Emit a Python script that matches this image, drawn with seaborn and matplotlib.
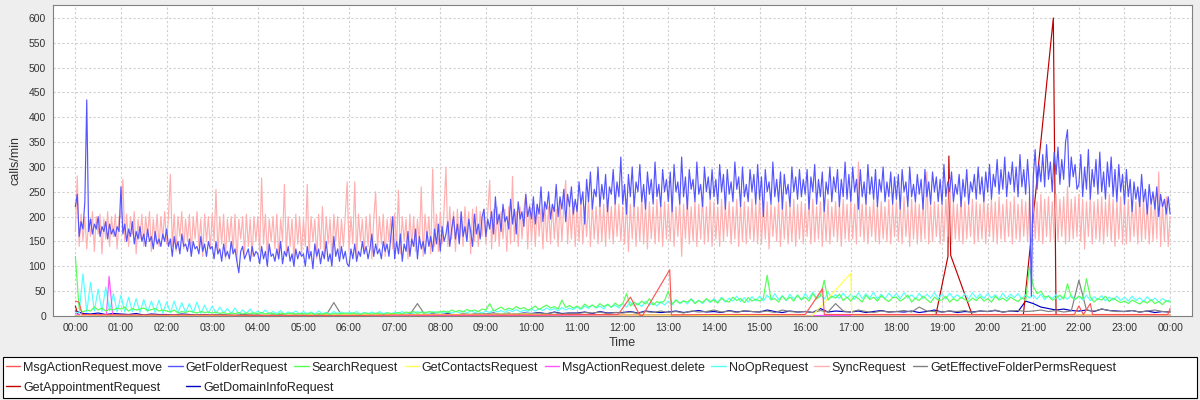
import numpy as np
import pandas as pd
import matplotlib
matplotlib.use("Agg")
import matplotlib.pyplot as plt
from matplotlib.lines import Line2D
from matplotlib.patches import Rectangle
import seaborn as sns

# ---------------- data ----------------
SERIES = ["MsgActionRequest.move", "GetFolderRequest", "SearchRequest", "GetContactsRequest",
          "MsgActionRequest.delete", "NoOpRequest", "SyncRequest", "GetEffectiveFolderPermsRequest",
          "GetAppointmentRequest", "GetDomainInfoRequest"]
COLORS = ["#FF5555", "#5555FF", "#55FF55", "#FFFF55", "#FF55FF", "#55FFFF", "#FFAFAF", "#808080",
          "#C00000", "#0000C0"]

# sample grids in minutes (00:00 .. 24:00)
MIN_2_5 = [i * 2.5 for i in range(577)]
MIN_5 = list(range(0, 1441, 5))
MIN_10 = list(range(0, 1441, 10))

get_folder = [  # 2.5-minute samples, one row per hour
    220, 245, 160, 190, 175, 230, 435, 170, 195, 165, 185, 175, 200, 160, 180, 170, 190, 155, 185, 165, 175, 160, 180, 170,
    260, 165, 185, 150, 175, 160, 190, 145, 170, 155, 180, 150, 165, 140, 175, 150, 160, 135, 170, 145, 155, 140, 165, 150,
    175, 140, 155, 120, 160, 135, 150, 125, 165, 140, 145, 130, 155, 120, 150, 135, 140, 125, 160, 130, 145, 120, 150, 135,
    140, 115, 150, 125, 135, 110, 145, 120, 130, 115, 150, 125, 135, 110, 87, 130, 140, 115, 125, 135, 110, 140, 120, 130,
    125, 105, 140, 115, 130, 100, 145, 120, 125, 110, 135, 115, 150, 105, 130, 120, 140, 110, 125, 100, 135, 115, 130, 120,
    125, 100, 140, 115, 130, 95, 145, 120, 135, 105, 130, 115, 150, 110, 125, 100, 160, 120, 135, 110, 140, 115, 130, 105,
    100, 135, 115, 145, 110, 130, 120, 150, 125, 140, 115, 135, 165, 120, 145, 125, 135, 115, 150, 130, 145, 120, 160, 200,
    115, 150, 125, 165, 110, 145, 130, 170, 120, 155, 140, 175, 115, 160, 135, 150, 125, 170, 140, 160, 130, 175, 145, 185,
    130, 180, 150, 165, 190, 140, 175, 200, 155, 185, 145, 210, 160, 180, 150, 195, 170, 140, 205, 165, 185, 155, 200, 215,
    160, 195, 175, 210, 165, 240, 185, 205, 170, 225, 190, 200, 175, 235, 185, 215, 165, 230, 195, 210, 180, 245, 200, 220,
    195, 240, 185, 225, 205, 260, 190, 230, 215, 250, 195, 225, 210, 265, 200, 240, 215, 255, 190, 245, 220, 260, 205, 235,
    210, 270, 225, 250, 185, 275, 230, 290, 215, 255, 240, 300, 220, 265, 235, 285, 210, 260, 245, 295, 225, 270, 240, 320,
    225, 265, 205, 285, 240, 300, 220, 270, 250, 305, 230, 265, 215, 290, 245, 275, 225, 310, 240, 265, 220, 295, 250, 275,
    230, 290, 210, 305, 250, 270, 225, 320, 240, 280, 215, 295, 255, 275, 230, 310, 245, 265, 220, 300, 250, 280, 235, 295,
    240, 275, 225, 305, 250, 285, 215, 295, 245, 270, 230, 310, 255, 280, 220, 300, 240, 265, 230, 295, 250, 285, 225, 305,
    235, 280, 200, 295, 250, 270, 225, 310, 240, 275, 230, 290, 215, 285, 245, 265, 220, 300, 250, 280, 235, 295, 240, 275,
    245, 295, 215, 280, 250, 305, 225, 275, 240, 290, 210, 270, 245, 300, 230, 280, 250, 295, 220, 275, 240, 310, 235, 285,
    230, 300, 250, 275, 215, 295, 240, 270, 225, 305, 245, 280, 235, 295, 220, 275, 250, 300, 230, 270, 240, 290, 225, 280,
    235, 285, 215, 295, 250, 270, 220, 300, 240, 265, 230, 285, 245, 275, 215, 295, 240, 270, 225, 290, 250, 280, 230, 275,
    225, 305, 240, 270, 250, 290, 230, 265, 245, 285, 220, 275, 240, 295, 225, 270, 250, 285, 235, 300, 245, 280, 230, 290,
    250, 305, 235, 285, 260, 315, 245, 295, 255, 320, 240, 290, 265, 310, 250, 300, 240, 325, 260, 295, 245, 315, 255, 40,
    280, 335, 255, 305, 270, 325, 260, 345, 275, 310, 250, 330, 285, 340, 265, 315, 275, 350, 375, 260, 320, 280, 305, 255,
    265, 325, 240, 300, 255, 335, 235, 295, 260, 315, 245, 330, 250, 290, 235, 310, 260, 320, 240, 295, 230, 305, 250, 285,
    225, 295, 240, 275, 210, 270, 235, 260, 220, 285, 230, 255, 205, 265, 225, 250, 215, 260, 200, 245, 220, 235, 205, 240,
    205]

sync = [  # 2.5-minute samples, one row per hour
    170, 282, 140, 205, 150, 200, 135, 195, 160, 210, 130, 200, 165, 205, 125, 195, 155, 210, 140, 200, 160, 205, 135, 200,
    200, 275, 150, 205, 140, 200, 165, 210, 125, 195, 155, 205, 140, 200, 160, 210, 130, 195, 150, 205, 140, 200, 155, 210,
    145, 200, 285, 140, 205, 130, 200, 160, 210, 135, 195, 150, 205, 125, 200, 155, 210, 140, 195, 120, 205, 150, 200, 135,
    205, 150, 255, 125, 200, 145, 205, 115, 195, 150, 200, 130, 205, 110, 195, 155, 200, 125, 205, 140, 195, 120, 200, 150,
    200, 130, 278, 145, 205, 120, 195, 150, 200, 135, 205, 115, 195, 150, 265, 125, 200, 140, 195, 110, 205, 145, 200, 125,
    195, 140, 265, 120, 200, 150, 195, 115, 205, 135, 220, 125, 200, 145, 195, 110, 205, 150, 200, 125, 195, 140, 200, 270,
    130, 200, 145, 270, 120, 205, 150, 195, 125, 200, 140, 205, 115, 195, 250, 135, 200, 145, 205, 120, 195, 150, 200, 135,
    205, 140, 253, 125, 200, 150, 195, 115, 205, 140, 200, 130, 195, 145, 260, 120, 205, 150, 200, 125, 296, 140, 205, 130,
    210, 145, 215, 299, 140, 220, 155, 210, 130, 215, 150, 205, 140, 220, 155, 210, 125, 215, 150, 220, 140, 210, 160, 215,
    145, 210, 273, 135, 215, 150, 220, 140, 210, 155, 215, 130, 220, 145, 281, 150, 210, 140, 220, 155, 215, 245, 135, 225,
    150, 220, 140, 225, 160, 215, 135, 230, 150, 220, 145, 225, 155, 215, 140, 230, 150, 225, 273, 145, 220, 155, 230, 140,
    225, 150, 230, 145, 220, 160, 235, 140, 225, 155, 220, 145, 230, 150, 225, 140, 235, 155, 220, 145, 230, 160, 225, 150,
    220, 145, 235, 130, 225, 155, 230, 140, 220, 150, 240, 145, 225, 135, 230, 155, 220, 145, 235, 150, 225, 140, 230, 155,
    225, 150, 235, 140, 220, 160, 230, 120, 225, 155, 235, 145, 220, 150, 230, 140, 225, 155, 240, 145, 220, 150, 235, 140,
    230, 155, 220, 140, 235, 150, 225, 160, 230, 145, 220, 155, 235, 140, 225, 150, 230, 145, 220, 155, 235, 150, 225, 145,
    240, 145, 225, 155, 230, 135, 225, 160, 220, 150, 235, 140, 225, 155, 230, 145, 220, 150, 235, 140, 225, 155, 230, 145,
    225, 160, 230, 145, 235, 150, 220, 155, 230, 140, 225, 150, 235, 145, 220, 160, 230, 150, 225, 140, 235, 155, 225, 150,
    230, 155, 225, 145, 310, 160, 225, 150, 230, 145, 220, 160, 235, 150, 225, 145, 230, 155, 220, 150, 235, 145, 225, 160,
    230, 150, 225, 145, 240, 160, 220, 140, 235, 155, 230, 145, 225, 150, 235, 155, 290, 145, 225, 150, 230, 160, 225, 145,
    225, 150, 235, 160, 275, 145, 230, 155, 225, 150, 240, 145, 230, 155, 225, 160, 235, 145, 230, 150, 225, 155, 240, 145,
    225, 160, 235, 150, 230, 145, 240, 155, 225, 150, 235, 160, 230, 145, 240, 155, 225, 150, 235, 160, 230, 150, 240, 155,
    240, 155, 230, 150, 245, 145, 235, 160, 240, 150, 230, 155, 245, 150, 235, 160, 240, 145, 260, 150, 235, 155, 240, 160,
    245, 150, 235, 135, 230, 160, 240, 145, 230, 155, 235, 150, 240, 145, 230, 160, 245, 150, 235, 140, 230, 155, 240, 145,
    230, 145, 235, 150, 225, 160, 230, 145, 240, 150, 235, 155, 225, 145, 230, 150, 240, 155, 290, 140, 225, 150, 240, 140,
    200]

search = [  # 5-minute samples
    120, 15, 8, 12, 10, 18, 12, 16, 10, 14, 12, 16,
    14, 18, 10, 15, 12, 14, 16, 11, 13, 15, 10, 12,
    10, 8, 12, 6, 9, 7, 10, 8, 6, 9, 7, 8,
    6, 8, 5, 7, 4, 6, 5, 7, 4, 6, 5, 6,
    5, 7, 4, 6, 5, 3, 6, 4, 5, 6, 4, 5,
    5, 4, 6, 3, 5, 4, 6, 3, 5, 4, 5, 6,
    4, 6, 5, 3, 6, 5, 4, 6, 5, 3, 6, 5,
    5, 7, 4, 8, 6, 9, 5, 8, 6, 9, 7, 8,
    8, 10, 7, 12, 9, 11, 8, 13, 10, 12, 9, 14,
    12, 25, 10, 14, 18, 12, 16, 13, 19, 14, 17, 12,
    15, 20, 13, 18, 22, 16, 19, 14, 32, 17, 21, 16,
    20, 15, 24, 18, 22, 17, 25, 19, 23, 18, 26, 20,
    25, 45, 20, 28, 22, 30, 24, 35, 22, 29, 26, 31,
    50, 24, 32, 26, 30, 28, 34, 25, 31, 27, 35, 29,
    32, 26, 36, 30, 28, 38, 31, 35, 27, 37, 30, 34,
    30, 36, 82, 33, 35, 28, 40, 32, 38, 30, 42, 33,
    38, 30, 45, 34, 40, 72, 32, 40, 36, 44, 31, 38,
    30, 40, 35, 28, 42, 33, 38, 30, 41, 34, 29, 37,
    38, 30, 35, 42, 28, 36, 31, 40, 33, 27, 38, 32,
    32, 40, 28, 35, 30, 38, 33, 29, 36, 31, 39, 30,
    35, 28, 40, 32, 36, 30, 38, 33, 29, 37, 31, 100,
    60, 45, 50, 38, 40, 32, 36, 42, 34, 65, 38, 33,
    40, 35, 75, 38, 28, 35, 32, 40, 29, 36, 31, 27,
    30, 25, 32, 28, 24, 30, 26, 33, 25, 29, 23, 31,
    28]

noop = [  # 5-minute samples
    8, 6, 85, 8, 68, 10, 54, 9, 58, 10, 45, 8,
    42, 8, 38, 9, 35, 7, 33, 8, 30, 7, 32, 6,
    28, 7, 30, 6, 27, 7, 25, 6, 28, 5, 22, 6,
    20, 5, 18, 6, 15, 5, 16, 4, 12, 5, 14, 4,
    10, 5, 12, 4, 9, 5, 11, 4, 8, 5, 10, 4,
    9, 5, 8, 4, 10, 5, 7, 4, 9, 5, 8, 4,
    8, 5, 9, 4, 7, 5, 8, 4, 9, 5, 7, 4,
    8, 5, 9, 4, 8, 5, 9, 6, 8, 5, 9, 6,
    9, 6, 10, 5, 9, 7, 10, 6, 11, 7, 9, 6,
    10, 7, 12, 8, 11, 7, 12, 9, 13, 8, 12, 9,
    14, 10, 15, 11, 16, 12, 15, 10, 17, 12, 16, 13,
    18, 13, 20, 15, 22, 16, 20, 14, 24, 17, 22, 16,
    25, 18, 28, 20, 26, 19, 30, 22, 27, 20, 29, 22,
    30, 22, 33, 25, 31, 24, 35, 26, 32, 25, 34, 27,
    35, 27, 38, 28, 36, 30, 40, 29, 37, 28, 39, 30,
    40, 30, 42, 32, 45, 33, 41, 31, 44, 34, 42, 32,
    45, 35, 48, 36, 44, 34, 47, 37, 43, 35, 46, 36,
    44, 34, 47, 35, 45, 36, 48, 34, 44, 35, 46, 37,
    45, 35, 47, 36, 43, 34, 46, 35, 44, 36, 47, 35,
    44, 34, 46, 36, 43, 35, 45, 34, 47, 36, 44, 35,
    45, 36, 43, 34, 46, 35, 44, 37, 45, 34, 43, 36,
    42, 34, 44, 33, 41, 35, 43, 32, 40, 34, 42, 33,
    40, 32, 42, 31, 39, 33, 41, 30, 38, 32, 40, 31,
    38, 30, 40, 31, 37, 29, 39, 30, 36, 28, 35, 30,
    32]

domain_info = [  # 10-minute samples
    10, 5, 4, 6, 3, 5,
    4, 3, 5, 2, 4, 3,
    3, 2, 4, 3, 2, 3,
    2, 3, 2, 1, 3, 2,
    2, 1, 2, 3, 1, 2,
    2, 1, 3, 2, 1, 2,
    2, 3, 1, 2, 3, 2,
    3, 2, 4, 2, 3, 4,
    3, 5, 2, 4, 3, 5,
    4, 6, 3, 5, 4, 6,
    5, 7, 4, 8, 5, 6,
    6, 8, 5, 9, 6, 7,
    7, 9, 6, 10, 8, 7,
    8, 10, 7, 9, 11, 8,
    9, 7, 11, 8, 10, 9,
    8, 12, 9, 7, 10, 8,
    9, 7, 15, 8, 10, 9,
    8, 10, 7, 9, 11, 8,
    9, 8, 10, 7, 9, 12,
    8, 10, 7, 9, 8, 10,
    9, 11, 8, 10, 9, 30,
    25, 18, 15, 12, 14, 11,
    10, 12, 9, 14, 11, 10,
    9, 11, 8, 10, 7, 9,
    8]

eff_perms = [  # 10-minute samples
    1, 1, 2, 1, 1, 2,
    1, 2, 1, 1, 2, 1,
    1, 1, 2, 1, 1, 1,
    1, 2, 1, 1, 1, 2,
    1, 1, 1, 2, 1, 1,
    1, 2, 1, 2, 27, 2,
    1, 2, 1, 2, 1, 2,
    2, 1, 3, 25, 2, 3,
    2, 3, 2, 4, 3, 5,
    3, 5, 4, 6, 3, 5,
    4, 6, 5, 7, 4, 6,
    5, 7, 6, 8, 5, 7,
    6, 8, 5, 9, 7, 10,
    7, 9, 6, 10, 8, 9,
    12, 8, 10, 7, 11, 9,
    8, 10, 7, 12, 9, 8,
    9, 7, 11, 8, 25, 10,
    8, 12, 9, 7, 10, 8,
    9, 11, 8, 18, 10, 9,
    8, 10, 9, 11, 7, 10,
    9, 12, 8, 10, 11, 9,
    10, 12, 9, 11, 8, 10,
    72, 12, 10, 14, 11, 9,
    9, 11, 8, 10, 12, 9,
    8]

# sparse series (time in hours)
move_t = [0.0, 0.08, 0.15, 1, 2, 3, 4, 5, 6, 7, 8, 9, 10, 11, 11.9, 12.17, 12.37, 12.43,
          13.03, 13.07, 14, 15, 16, 16.38, 16.42, 16.47, 17, 18, 19, 20, 21, 21.9, 22.0,
          22.1, 22.25, 22.3, 23, 23.95, 24]
move_v = [30, 28, 3, 2, 2, 2, 1, 1, 1, 2, 2, 2, 2, 3, 3, 38, 2, 0,
          93, 2, 3, 3, 3, 55, 3, 3, 3, 3, 3, 3, 3, 3, 20,
          3, 25, 3, 3, 3, 15]

appt_t = [0.0, 0.05, 0.1, 6, 12, 18.86, 19.13, 19.15, 19.19, 19.67, 20.78, 21.44, 21.5, 22, 24]
appt_v = [20, 5, 1, 1, 2, 0, 120, 322, 122, 0, 0, 600, 0, 2, 2]

delete_t = [0.0, 0.1, 0.68, 0.74, 0.82, 1, 6, 12, 18, 24]
delete_v = [5, 1, 2, 80, 1, 0, 1, 1, 1, 1]

contacts_t = [0.0, 9.9, 10.2, 12, 16.15, 17.0, 17.02, 20, 24]
contacts_v = [0, 4, 3, 2, 0, 86, 2, 2, 2]

X_TICKS = list(range(0, 25))
X_TICK_LABELS = [f"{h % 24:02d}:00" for h in X_TICKS]
Y_TICKS = list(range(0, 601, 50))

# ---------------- assemble long table ----------------
frames = []
def add(name, hours, values):
    n = min(len(hours), len(values))
    frames.append(pd.DataFrame({"series": name, "hour": list(hours)[:n], "calls": list(values)[:n]}))

h2 = [m / 60 for m in MIN_2_5]
h5 = [m / 60 for m in MIN_5]
h10 = [m / 60 for m in MIN_10]
add("MsgActionRequest.move", move_t, move_v)
add("GetFolderRequest", h2, get_folder)
add("SearchRequest", h5, search)
add("GetContactsRequest", contacts_t, contacts_v)
add("MsgActionRequest.delete", delete_t, delete_v)
add("NoOpRequest", h5, noop)
add("SyncRequest", h2, sync)
add("GetEffectiveFolderPermsRequest", h10, eff_perms)
add("GetAppointmentRequest", appt_t, appt_v)
add("GetDomainInfoRequest", h10, domain_info)
df = pd.concat(frames, ignore_index=True)

# ---------------- style ----------------
sns.set_style("white")
plt.rcParams["font.family"] = ["Liberation Sans", "DejaVu Sans"]

fig = plt.figure(figsize=(12, 4), dpi=100, facecolor="#EEEEEE")
ax = fig.add_axes([53 / 1200, 1 - 316 / 400, (1192 - 53) / 1200, (316 - 4.5) / 400])
ax.set_facecolor("white")

palette = dict(zip(SERIES, COLORS))
sns.lineplot(data=df, x="hour", y="calls", hue="series", hue_order=SERIES[::-1],
             palette=palette, estimator=None, sort=True, legend=False,
             linewidth=0.85, ax=ax)

ax.set_xlim(-0.49, 24.48)
ax.set_ylim(0, 627)
ax.set_xticks(X_TICKS)
ax.set_xticklabels(X_TICK_LABELS)
ax.set_yticks(Y_TICKS)
ax.grid(True, color="#D0D0D0", linestyle=(0, (2, 2)), linewidth=0.8)
ax.set_axisbelow(True)
for s in ax.spines.values():
    s.set_color("#808080")
    s.set_linewidth(0.8)
ax.tick_params(axis="both", direction="out", length=3, width=0.7, color="#808080",
               labelsize=7.5, labelcolor="#333333", pad=2)
ax.set_xlabel("Time", fontsize=9, color="#333333", labelpad=3)
ax.set_ylabel("calls/min", fontsize=9, color="#333333", labelpad=5)

# ---------------- legend ----------------
fig.add_artist(Rectangle((3 / 1200, 1 - 398 / 400), 1194 / 1200, 41 / 400,
                         transform=fig.transFigure, facecolor="white", edgecolor="black",
                         linewidth=0.8, zorder=1))

def handles_for(names):
    return [Line2D([0], [0], color=palette[n], linewidth=1.0) for n in names]

row1 = SERIES[:8]
row2 = SERIES[8:]
common = dict(frameon=False, fontsize=9, handlelength=1.14, handletextpad=0.24,
              borderpad=0, borderaxespad=0, loc="center left")
leg1 = fig.legend(handles_for(row1), row1, ncol=8, columnspacing=0.52,
                  bbox_to_anchor=(5.7 / 1200, 1 - 367.7 / 400), **common)
leg2 = fig.legend(handles_for(row2), row2, ncol=2, columnspacing=2.08,
                  bbox_to_anchor=(5.7 / 1200, 1 - 387.7 / 400), **common)
for lg in (leg1, leg2):
    lg.set_zorder(5)
    for t in lg.get_texts():
        t.set_color("#222222")

fig.savefig("out.png", dpi=100, facecolor=fig.get_facecolor())
